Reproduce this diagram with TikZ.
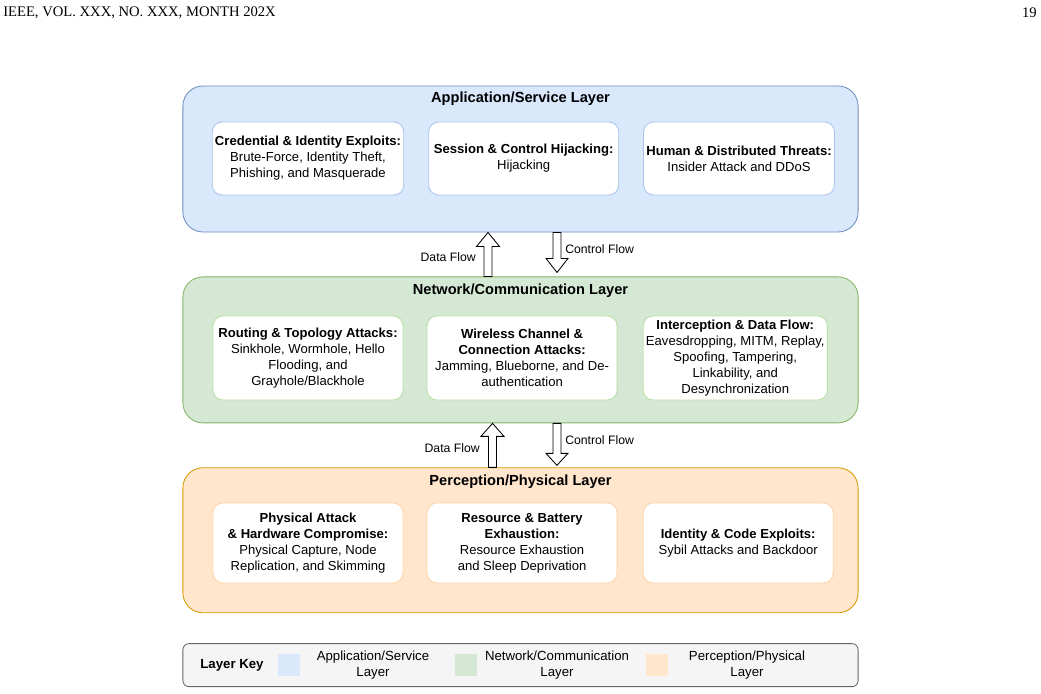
\documentclass[tikz,border=0pt]{standalone}
\usepackage{fontspec}
\setmainfont{Liberation Sans}
\newfontfamily\headfont{Liberation Serif}
\usepackage{xcolor}
\usetikzlibrary{positioning,calc}

\definecolor{appfill}{HTML}{DAE8FC}
\definecolor{appdraw}{HTML}{6C8EBF}
\definecolor{appedge}{HTML}{A9C4EB}
\definecolor{netfill}{HTML}{D5E8D4}
\definecolor{netdraw}{HTML}{82B366}
\definecolor{netedge}{HTML}{B9E0A5}
\definecolor{perfill}{HTML}{FFE6CC}
\definecolor{perdraw}{HTML}{D79B00}
\definecolor{peredge}{HTML}{FFD4A8}
\definecolor{keyfill}{HTML}{F5F5F5}
\definecolor{keydraw}{HTML}{666666}

\begin{document}
\begin{tikzpicture}[
  x=0.025cm, y=-0.025cm,
  node distance=1.1cm and 0.6cm,
  layer/.style={draw, rounded corners=5mm, line width=0.6pt, minimum width=16.875cm, minimum height=3.65cm},
  layertitle/.style={font=\fontsize{10.4}{12.5}\selectfont\bfseries, inner sep=0pt},
  card/.style={draw, fill=white, rounded corners=2.5mm, line width=0.6pt, align=center, font=\fontsize{9.3}{11.4}\selectfont, minimum width=4.75cm, inner sep=2pt},
  flow/.style={draw=black, fill=white, line width=0.6pt, line join=miter},
  flowlabel/.style={font=\fontsize{8.7}{10}\selectfont, inner sep=0pt},
  keytext/.style={align=center, font=\fontsize{9.4}{11.4}\selectfont, inner sep=0pt},
  swatch/.style={minimum size=0.55cm, inner sep=0pt}
]
\useasboundingbox (0,0) rectangle (1041,694);

% running head
\node[font=\headfont\fontsize{10.4}{12}\selectfont, anchor=west, inner sep=0pt] (runhead) at (3,13) {IEEE, VOL. XXX, NO. XXX, MONTH 202X};
\node[font=\headfont\fontsize{10.4}{12}\selectfont, anchor=east, inner sep=0pt] (pagenum) at (1037,13) {19};

% layers
\node[layer, draw=appdraw, fill=appfill] (app) at (520.5,159) {};
\node[layer, draw=netdraw, fill=netfill, below=1.1cm of app] (net) {};
\node[layer, draw=perdraw, fill=perfill, minimum height=3.625cm, below=1.1cm of net] (per) {};
\node[draw=keydraw, fill=keyfill, rounded corners=1.5mm, line width=0.6pt, minimum width=16.875cm, minimum height=1.075cm, below=0.75cm of per] (key) {};

\node[layertitle] (apptitle) at ($(app.north)+(0,13)$) {Application/Service Layer};
\node[layertitle] (nettitle) at ($(net.north)+(0,14)$) {Network/Communication Layer};
\node[layertitle] (pertitle) at ($(per.north)+(0,14)$) {Perception/Physical Layer};

% application cards
\node[card, draw=appedge, minimum height=1.825cm] (cred) at (308,158.5) {\textbf{Credential \& Identity Exploits:}\\Brute-Force, Identity Theft,\\Phishing, and Masquerade};
\node[card, draw=appedge, minimum height=1.825cm, right=of cred] (sess) {\textbf{Session \& Control Hijacking:}\\Hijacking};
\node[card, draw=appedge, minimum height=1.825cm, right=of sess] (human) {\textbf{Human \& Distributed Threats:}\\Insider Attack and DDoS};

% network cards
\node[card, draw=netedge, minimum height=2.1cm] (route) at (308,358) {\textbf{Routing \& Topology Attacks:}\\Sinkhole, Wormhole, Hello\\Flooding, and\\Grayhole/Blackhole};
\node[card, draw=netedge, minimum height=2.1cm, right=0.58cm of route] (wless) {\textbf{Wireless Channel \&}\\\textbf{Connection Attacks:}\\Jamming, Blueborne, and De-\\authentication};
\node[card, draw=netedge, minimum height=2.1cm, minimum width=4.575cm, right=0.63cm of wless] (intercept) {\textbf{Interception \& Data Flow:}\\Eavesdropping, MITM, Replay,\\Spoofing, Tampering,\\Linkability, and\\Desynchronization};

% perception cards
\node[card, draw=peredge, minimum height=2cm] (phys) at (308,543) {\textbf{Physical Attack}\\\textbf{\& Hardware Compromise:}\\Physical Capture, Node\\Replication, and Skimming};
\node[card, draw=peredge, minimum height=2cm, right=0.58cm of phys] (batt) {\textbf{Resource \& Battery}\\\textbf{Exhaustion:}\\Resource Exhaustion\\and Sleep Deprivation};
\node[card, draw=peredge, minimum height=2cm, right=0.63cm of batt] (ident) {\textbf{Identity \& Code Exploits:}\\Sybil Attacks and Backdoor};

% flow arrows
\coordinate (dfa) at (488,0);
\coordinate (cfa) at (557,0);
\coordinate (dfb) at (492.5,0);
\coordinate (cfb) at (557,0);
\draw[flow] ($(dfa |- net.north)+(-4,0)$) -- ($(dfa |- app.south)+(-4,14)$) -- ++(-7.5,0) -- (dfa |- app.south) -- ++(11.5,14) -- ++(-7.5,0) -- ($(dfa |- net.north)+(4,0)$) -- cycle;
\draw[flow] ($(cfa |- app.south)+(-4,0)$) -- ($(cfa |- net.north)+(-4,-18)$) -- ++(-7,0) -- ($(cfa |- net.north)+(0,-4)$) -- ++(11,-14) -- ++(-7,0) -- ($(cfa |- app.south)+(4,0)$) -- cycle;
\draw[flow] ($(dfb |- per.north)+(-4,0)$) -- ($(dfb |- net.south)+(-4,13)$) -- ++(-7.5,0) -- (dfb |- net.south) -- ++(11.5,13) -- ++(-7.5,0) -- ($(dfb |- per.north)+(4,0)$) -- cycle;
\draw[flow] ($(cfb |- net.south)+(-4,0)$) -- ($(cfb |- per.north)+(-4,-14)$) -- ++(-7,0) -- ($(cfb |- per.north)+(0,-2)$) -- ++(11,-12) -- ++(-7,0) -- ($(cfb |- net.south)+(4,0)$) -- cycle;

\node[flowlabel, anchor=east] (dflab1) at (476,257) {Data Flow};
\node[flowlabel, anchor=west] (cflab1) at (565,249) {Control Flow};
\node[flowlabel, anchor=east] (dflab2) at (480,448) {Data Flow};
\node[flowlabel, anchor=west] (cflab2) at (565,440) {Control Flow};

% layer key
\node[font=\fontsize{9.4}{11.4}\selectfont\bfseries, inner sep=0pt] (keytitle) at (232,665) {Layer Key};
\node[swatch, fill=appfill] (keyapp) at (289,665) {};
\node[keytext] (keyapptext) at (373,665) {Application/Service\\Layer};
\node[swatch, fill=netfill] (keynet) at (466,665) {};
\node[keytext] (keynettext) at (557,665) {Network/Communication\\Layer};
\node[swatch, fill=perfill] (keyper) at (657,665) {};
\node[keytext] (keypertext) at (747,665) {Perception/Physical\\Layer};
\end{tikzpicture}
\end{document}
